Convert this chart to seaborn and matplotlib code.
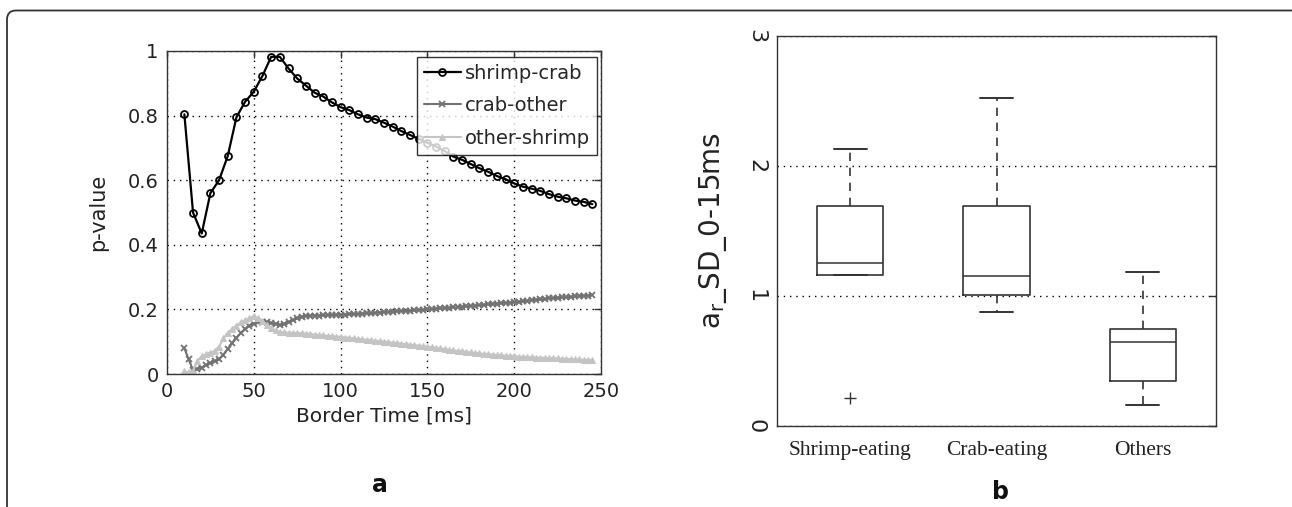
import numpy as np
import pandas as pd
import matplotlib
matplotlib.use("Agg")
import matplotlib.pyplot as plt
import seaborn as sns
from matplotlib.patches import FancyBboxPatch
from matplotlib.transforms import IdentityTransform

# ---------------- data (panel a) ----------------
t_sc = [10, 15, 20, 25, 30, 35, 40, 45, 50, 55, 60, 65, 70, 75, 80, 85, 90, 95,
        100, 105, 110, 115, 120, 125, 130, 135, 140, 145, 150, 155, 160, 165,
        170, 175, 180, 185, 190, 195, 200, 205, 210, 215, 220, 225, 230, 235,
        240, 245]
shrimp_crab = [0.804, 0.500, 0.435, 0.560, 0.600, 0.675, 0.795, 0.843, 0.874,
               0.923, 0.982, 0.982, 0.946, 0.915, 0.893, 0.871, 0.859, 0.841,
               0.826, 0.817, 0.804, 0.794, 0.789, 0.778, 0.766, 0.752, 0.740,
               0.728, 0.716, 0.704, 0.690, 0.673, 0.663, 0.650, 0.637, 0.626,
               0.613, 0.603, 0.590, 0.580, 0.574, 0.567, 0.557, 0.549, 0.544,
               0.537, 0.533, 0.526]

t_fine = [10, 12.5, 15, 17.5, 20, 22.5, 25, 27.5, 30, 32.5, 35, 37.5, 40, 42.5,
          45, 47.5, 50, 52.5, 55, 57.5, 60, 62.5, 65, 67.5, 70, 72.5, 75, 77.5,
          80, 82.5, 85, 87.5, 90, 92.5, 95, 97.5, 100, 102.5, 105, 107.5, 110,
          112.5, 115, 117.5, 120, 122.5, 125, 127.5, 130, 132.5, 135, 137.5,
          140, 142.5, 145, 147.5, 150, 152.5, 155, 157.5, 160, 162.5, 165,
          167.5, 170, 172.5, 175, 177.5, 180, 182.5, 185, 187.5, 190, 192.5,
          195, 197.5, 200, 202.5, 205, 207.5, 210, 212.5, 215, 217.5, 220,
          222.5, 225, 227.5, 230, 232.5, 235, 237.5, 240, 242.5, 245]
crab_other = [0.080, 0.045, 0.012, 0.016, 0.020, 0.028, 0.034, 0.040, 0.045,
              0.060, 0.078, 0.095, 0.112, 0.127, 0.140, 0.150, 0.156, 0.160,
              0.162, 0.160, 0.158, 0.155, 0.152, 0.155, 0.160, 0.166, 0.172,
              0.177, 0.180, 0.180, 0.181, 0.181, 0.182, 0.182, 0.183, 0.183,
              0.184, 0.184, 0.185, 0.186, 0.186, 0.187, 0.188, 0.188, 0.189,
              0.190, 0.191, 0.192, 0.193, 0.194, 0.195, 0.195, 0.196, 0.197,
              0.198, 0.199, 0.200, 0.201, 0.202, 0.203, 0.204, 0.205, 0.206,
              0.207, 0.208, 0.209, 0.211, 0.212, 0.213, 0.214, 0.216, 0.217,
              0.218, 0.219, 0.220, 0.221, 0.222, 0.224, 0.225, 0.227, 0.228,
              0.230, 0.231, 0.232, 0.234, 0.235, 0.236, 0.237, 0.238, 0.239,
              0.240, 0.241, 0.242, 0.243, 0.244]
other_shrimp = [0.008, 0.006, 0.010, 0.040, 0.055, 0.062, 0.066, 0.072, 0.085,
                0.110, 0.128, 0.140, 0.150, 0.160, 0.167, 0.172, 0.180, 0.172,
                0.165, 0.152, 0.142, 0.135, 0.131, 0.129, 0.128, 0.127, 0.126,
                0.126, 0.125, 0.124, 0.122, 0.121, 0.120, 0.118, 0.117, 0.116,
                0.115, 0.113, 0.112, 0.110, 0.109, 0.107, 0.106, 0.104, 0.103,
                0.101, 0.100, 0.098, 0.097, 0.095, 0.094, 0.092, 0.091, 0.089,
                0.088, 0.086, 0.085, 0.083, 0.081, 0.079, 0.077, 0.075, 0.073,
                0.071, 0.070, 0.068, 0.067, 0.065, 0.064, 0.062, 0.061, 0.060,
                0.059, 0.058, 0.057, 0.056, 0.055, 0.054, 0.053, 0.052, 0.052,
                0.051, 0.050, 0.050, 0.049, 0.048, 0.048, 0.047, 0.046, 0.046,
                0.045, 0.045, 0.044, 0.044, 0.043]

x_ticks_a = [0, 50, 100, 150, 200, 250]
y_ticks_a = [0, 0.2, 0.4, 0.6, 0.8, 1]
y_ticklabels_a = ["0", "0.2", "0.4", "0.6", "0.8", "1"]

# ---------------- data (panel b) ----------------
groups = ["Shrimp-eating", "Crab-eating", "Others"]
box_med = [1.254, 1.151, 0.644]
box_q1 = [1.162, 1.005, 0.349]
box_q3 = [1.695, 1.695, 0.744]
box_whislo = [1.162, 0.879, 0.164]
box_whishi = [2.128, 2.523, 1.187]
box_fliers = [[0.213], [], []]
y_ticks_b = [0, 1, 2, 3]

# ---------------- style ----------------
sns.set_theme(style="white")
plt.rcParams["font.family"] = ["DejaVu Sans"]
plt.rcParams["axes.edgecolor"] = "#333333"
plt.rcParams["axes.linewidth"] = 1.0

fig = plt.figure(figsize=(12.92, 5.07), dpi=100)
W, H = 1292, 507

def ax_rect(l, t, r, b):
    return [l / W, 1 - b / H, (r - l) / W, (b - t) / H]

ax1 = fig.add_axes(ax_rect(167, 51, 601, 374))
ax2 = fig.add_axes(ax_rect(777, 36, 1216, 426))

# ---------------- panel a ----------------
df_sc = pd.DataFrame({"t": t_sc, "p": shrimp_crab})
df_co = pd.DataFrame({"t": t_fine, "p": crab_other})
df_os = pd.DataFrame({"t": t_fine, "p": other_shrimp})

sns.lineplot(data=df_sc, x="t", y="p", ax=ax1, color="black", lw=1.6,
             marker="o", markersize=5, markerfacecolor="none",
             markeredgecolor="black", markeredgewidth=1.3, label="shrimp-crab")
sns.lineplot(data=df_co, x="t", y="p", ax=ax1, color="#727272", lw=1.5,
             marker="x", markersize=5, markeredgewidth=1.3,
             markeredgecolor="#727272", label="crab-other")
sns.lineplot(data=df_os, x="t", y="p", ax=ax1, color="#c4c4c4", lw=1.5,
             marker="^", markersize=5, markerfacecolor="#c4c4c4",
             markeredgecolor="#c4c4c4", label="other-shrimp")

ax1.set_xlim(0, 250)
ax1.set_ylim(0, 1)
ax1.set_xticks(x_ticks_a)
ax1.set_yticks(y_ticks_a)
ax1.set_yticklabels(y_ticklabels_a)
ax1.grid(True, linestyle=(0, (1, 3.5)), color="black", lw=1.0)
ax1.tick_params(direction="in", length=5, width=1, colors="#333333",
                top=True, right=True, labelsize=14, labelcolor="#222222", pad=6)
ax1.set_xlabel("Border Time [ms]", fontsize=14.5, color="#222222", labelpad=4)
ax1.set_ylabel("p-value", fontsize=15, color="#222222", labelpad=14)
for s in ax1.spines.values():
    s.set_visible(True)

leg = ax1.legend(loc="upper right", bbox_to_anchor=(0.99, 0.982), fontsize=14,
                 frameon=True, fancybox=False, edgecolor="black",
                 handlelength=1.9, handletextpad=0.2, labelspacing=0.7,
                 borderpad=0.35, borderaxespad=0.0, numpoints=1)
leg.get_frame().set_linewidth(1.0)

# ---------------- panel b ----------------
stats = []
for i, g in enumerate(groups):
    stats.append(dict(label=g, med=box_med[i], q1=box_q1[i], q3=box_q3[i],
                      whislo=box_whislo[i], whishi=box_whishi[i],
                      fliers=box_fliers[i]))
box_c = "#333333"
ax2.bxp(stats, positions=[1, 2, 3], widths=0.455, capwidths=0.225,
        showfliers=True,
        boxprops=dict(color=box_c, lw=1.2),
        medianprops=dict(color=box_c, lw=1.1),
        whiskerprops=dict(color=box_c, lw=1.2, linestyle=(0, (5, 4))),
        capprops=dict(color=box_c, lw=1.4),
        flierprops=dict(marker="+", markersize=9, markeredgecolor=box_c,
                        markeredgewidth=1.0, linestyle="none"))
sns.despine(ax=ax2, top=False, right=False)
ax2.set_xlim(0.5, 3.5)
ax2.set_ylim(0, 3)
ax2.set_yticks(y_ticks_b)
ax2.set_xticks([1, 2, 3])
ax2.set_xticklabels(groups, family=["Liberation Serif"], fontsize=15.5,
                    color="#222222")
ax2.yaxis.grid(True, linestyle=(0, (1, 3.5)), color="black", lw=1.0)
ax2.xaxis.grid(False)
ax2.tick_params(axis="y", direction="in", length=5, width=1, colors="#333333",
                right=True, labelsize=16, labelcolor="#222222", pad=8,
                labelrotation=-90)
for lab in ax2.get_yticklabels():
    lab.set_va("center")
ax2.tick_params(axis="x", length=0, pad=11)
ax2.set_ylabel(r"a$_\mathregular{r}$_SD_0-15ms", fontsize=20, color="#222222",
               labelpad=12)

# ---------------- sub-captions and frame ----------------
fig.text(380 / W, 1 - 485 / H, "a", fontsize=17, fontweight="bold",
         ha="center", va="center", color="#111111")
fig.text(1000 / W, 1 - 492 / H, "b", fontsize=17, fontweight="bold",
         ha="center", va="center", color="#111111")

frame = FancyBboxPatch((7, -60), 1310, H - 10.5 + 60,
                       boxstyle="round,pad=0,rounding_size=9",
                       transform=IdentityTransform(), fill=False,
                       edgecolor="#333333", lw=1.3)
fig.add_artist(frame)

fig.savefig("out.png", dpi=100)
